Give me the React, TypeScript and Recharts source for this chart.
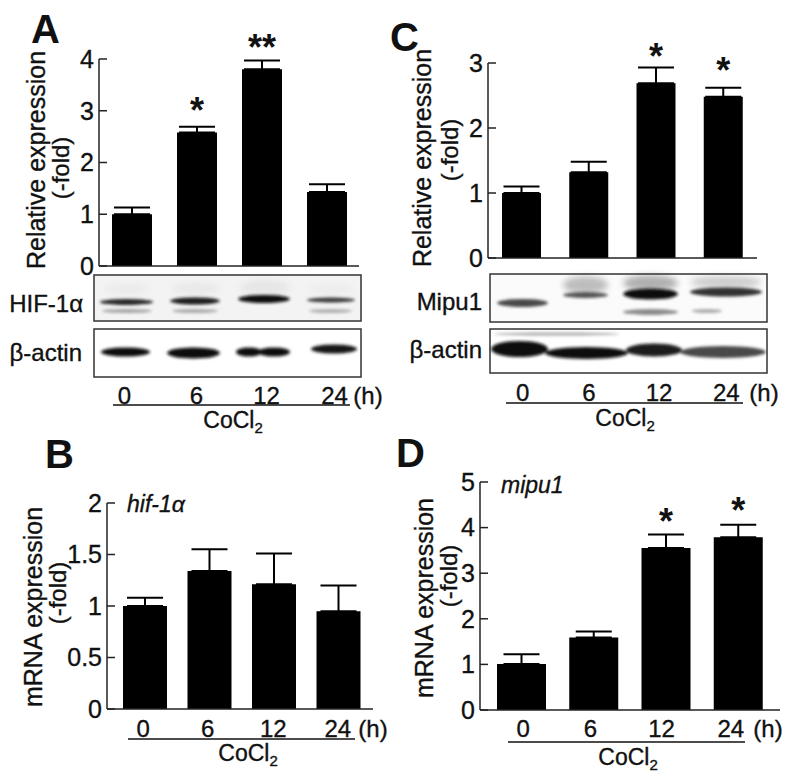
import React from "react";
import { BarChart, Bar, XAxis, YAxis, ErrorBar, LabelList } from "recharts";

const FONT = "'Liberation Sans', Arial, Helvetica, sans-serif";

const timePoints = ["0", "6", "12", "24"];

// A: HIF-1α protein
const hifProtein = [1.0, 2.58, 3.8, 1.43];
const hifProteinErr = [0.13, 0.11, 0.17, 0.15];
const hifProteinSig = ["", "*", "**", ""];
const hifProteinTicks = [0, 1, 2, 3, 4];

// C: Mipu1 protein
const mipuProtein = [1.0, 1.32, 2.69, 2.48];
const mipuProteinErr = [0.1, 0.16, 0.24, 0.14];
const mipuProteinSig = ["", "", "*", "*"];
const mipuProteinTicks = [0, 1, 2, 3];

// B: hif-1α mRNA
const hifMrna = [1.0, 1.34, 1.21, 0.95];
const hifMrnaErr = [0.08, 0.21, 0.3, 0.25];
const hifMrnaSig = ["", "", "", ""];
const hifMrnaTicks = [0, 0.5, 1, 1.5, 2];

// D: mipu1 mRNA
const mipuMrna = [1.01, 1.59, 3.55, 3.79];
const mipuMrnaErr = [0.21, 0.13, 0.3, 0.27];
const mipuMrnaSig = ["", "", "*", "*"];
const mipuMrnaTicks = [0, 1, 2, 3, 4, 5];

const toRows = (vals: number[], errs: number[], sig: string[]) =>
  timePoints.map((t, i) => ({ time: t, value: vals[i], err: [0, errs[i]], sig: sig[i] }));

const heavy = { stroke: "#111", strokeWidth: 0.35 };

type PanelProps = {
  left: number;
  top: number;
  width: number;
  height: number;
  margin: { top: number; right: number; bottom: number; left: number };
  rows: any[];
  ticks: number[];
  yWidth: number;
  barSize: number;
  labelDy: number;
  labelDx: number[];
  starGap: number;
  padding?: { left: number; right: number };
};

// time labels sit a bit off the bar centres in the original figure
const timeTick = (dy: number, dx: number[]) => (props: any) => {
  const { x, y, payload, index } = props;
  return (
    <text
      x={x + (dx[index] ?? 0)}
      y={y + dy}
      textAnchor="middle"
      dominantBaseline="central"
      fontSize={24}
      fill="#111"
      fontFamily={FONT}
      {...heavy}
    >
      {payload.value}
    </text>
  );
};

const starLabel = (gap: number) => (props: any) => {
  const x = props.x ?? props.viewBox?.x;
  const y = props.y ?? props.viewBox?.y;
  const w = props.width ?? props.viewBox?.width ?? 0;
  if (!props.value) return null;
  return (
    <text x={x + w / 2} y={y - gap + 20} textAnchor="middle" fontSize={36} fontWeight="bold" fill="#111" fontFamily={FONT}>
      {props.value}
    </text>
  );
};

function Panel(p: PanelProps) {
  const max = p.ticks[p.ticks.length - 1];
  return (
    <div style={{ position: "absolute", left: p.left, top: p.top }}>
      <BarChart width={p.width} height={p.height} data={p.rows} margin={p.margin}>
        <XAxis
          dataKey="time"
          height={30}
          tickLine={false}
          tickSize={0}
          tickMargin={0}
          padding={p.padding ?? { left: 0, right: 0 }}
          axisLine={{ stroke: "#222", strokeWidth: 1.5 }}
          tick={timeTick(p.labelDy, p.labelDx)}
          interval={0}
        />
        <YAxis
          width={p.yWidth}
          domain={[0, max]}
          ticks={p.ticks}
          allowDataOverflow
          tickSize={-8}
          tickMargin={13}
          axisLine={{ stroke: "#222", strokeWidth: 1.5 }}
          tickLine={{ stroke: "#222", strokeWidth: 1.5 }}
          tick={{ fontSize: 25, fill: "#111", fontFamily: FONT, ...heavy }}
          tickFormatter={(v: number) => String(v)}
        />
        <Bar dataKey="value" fill="#000" barSize={p.barSize} isAnimationActive={false}>
          <ErrorBar dataKey="err" width={18} stroke="#000" strokeWidth={2} direction="y" />
          <LabelList dataKey="sig" content={starLabel(p.starGap)} />
        </Bar>
      </BarChart>
    </div>
  );
}

type BandDef = [number, number, number, number, string];

function Bands({ list, blur }: { list: BandDef[]; blur: string }) {
  return (
    <g filter={`url(#${blur})`}>
      {list.map(([x1, x2, y, h, c], i) => (
        <ellipse key={i} cx={(x1 + x2) / 2} cy={y} rx={(x2 - x1) / 2} ry={h / 2} fill={c} />
      ))}
    </g>
  );
}

function VText({ x, y, size = 25, children }: { x: number; y: number; size?: number; children: React.ReactNode }) {
  return (
    <text
      x={x}
      y={y}
      transform={`rotate(-90 ${x} ${y})`}
      textAnchor="middle"
      dominantBaseline="central"
      fontSize={size}
      fill="#111"
      fontFamily={FONT}
      {...heavy}
    >
      {children}
    </text>
  );
}

function CoCl2({ x, y }: { x: number; y: number }) {
  return (
    <text x={x} y={y} textAnchor="middle" dominantBaseline="central" fontSize={23} fill="#111" fontFamily={FONT} {...heavy}>
      CoCl<tspan fontSize={15} dy={7}>2</tspan>
    </text>
  );
}

function Hours({ x, y }: { x: number; y: number }) {
  return (
    <text x={x} y={y} fontSize={24} textAnchor="middle" dominantBaseline="central" fill="#111" fontFamily={FONT} {...heavy}>
      (h)
    </text>
  );
}

function Overlay() {
  const t = { fill: "#111", fontFamily: FONT };
  return (
    <svg width={800} height={778} style={{ position: "absolute", left: 0, top: 0, pointerEvents: "none" }}>
      <defs>
        <filter id="soft" x="-20%" y="-150%" width="140%" height="400%">
          <feGaussianBlur stdDeviation="1.4" />
        </filter>
        <filter id="haze" x="-20%" y="-150%" width="140%" height="400%">
          <feGaussianBlur stdDeviation="3" />
        </filter>
      </defs>

      {/* panel letters */}
      <text x={31} y={43} fontSize={40} fontWeight="bold" {...t}>A</text>
      <text x={390} y={51} fontSize={40} fontWeight="bold" {...t}>C</text>
      <text x={45} y={468} fontSize={40} fontWeight="bold" {...t}>B</text>
      <text x={396} y={467} fontSize={40} fontWeight="bold" {...t}>D</text>

      {/* axis titles */}
      <VText x={36} y={160}>Relative expression</VText>
      <VText x={60} y={168} size={24}>(-fold)</VText>
      <VText x={422} y={158}>Relative expression</VText>
      <VText x={449} y={150} size={24}>(-fold)</VText>
      <VText x={33} y={607}>mRNA expression</VText>
      <VText x={57} y={593} size={24}>(-fold)</VText>
      <VText x={424} y={598}>mRNA expression</VText>
      <VText x={448} y={576} size={24}>(-fold)</VText>

      {/* gene names */}
      <text x={127} y={504} fontSize={23} fontStyle="italic" dominantBaseline="central" {...t} {...heavy}>hif-1α</text>
      <text x={501} y={485} fontSize={23} fontStyle="italic" dominantBaseline="central" {...t} {...heavy}>mipu1</text>

      {/* A blots */}
      <rect x={94} y={275} width={267} height={46} fill="#f3f3f3" />
      <Bands
        blur="haze"
        list={[
          [105, 150, 289, 12, "#ebebeb"],
          [172, 220, 288, 12, "#e9e9e9"],
          [240, 290, 287, 14, "#e6e6e6"],
          [308, 354, 289, 10, "#ececec"],
        ]}
      />
      <Bands
        blur="soft"
        list={[
          [100, 153, 302, 6, "#262626"],
          [170, 220, 301, 7, "#1c1c1c"],
          [238, 290, 299, 8, "#0e0e0e"],
          [307, 355, 300, 5, "#3a3a3a"],
          [102, 152, 311, 4, "#a4a4a4"],
          [172, 218, 311, 4, "#aaaaaa"],
          [309, 352, 311, 4, "#b0b0b0"],
        ]}
      />
      <rect x={94} y={275} width={267} height={46} fill="none" stroke="#333" strokeWidth={1.5} />
      <rect x={94} y={329} width={267} height={48} fill="none" stroke="#333" strokeWidth={1.5} />
      <Bands
        blur="soft"
        list={[
          [101, 150, 352, 9, "#111"],
          [167, 220, 353, 11, "#0a0a0a"],
          [236, 262, 352, 9, "#111"],
          [258, 290, 352, 9, "#111"],
          [311, 357, 349, 9, "#161616"],
        ]}
      />
      <text x={83} y={303} fontSize={24} textAnchor="end" dominantBaseline="central" {...t} {...heavy}>HIF-1α</text>
      <text x={82} y={352} fontSize={24} textAnchor="end" dominantBaseline="central" {...t} {...heavy}>β-actin</text>

      {/* C blots */}
      <rect x={490} y={274} width={277} height={48} fill="#fbfbfb" />
      <Bands
        blur="haze"
        list={[
          [563, 608, 285, 18, "#bdbdbd"],
          [623, 678, 283, 16, "#b0b0b0"],
          [690, 762, 282, 12, "#cccccc"],
        ]}
      />
      <Bands
        blur="soft"
        list={[
          [497, 548, 303, 8, "#4a4a4a"],
          [563, 608, 295, 6, "#555"],
          [623, 678, 294, 11, "#111"],
          [623, 678, 312, 6, "#8a8a8a"],
          [690, 762, 292, 9, "#333"],
          [692, 722, 311, 4, "#aaa"],
        ]}
      />
      <rect x={490} y={274} width={277} height={48} fill="none" stroke="#333" strokeWidth={1.5} />
      <rect x={490} y={329} width={277} height={44} fill="none" stroke="#333" strokeWidth={1.5} />
      <Bands
        blur="soft"
        list={[
          [493, 620, 334, 3, "#aaa"],
          [491, 548, 349, 16, "#0a0a0a"],
          [545, 628, 353, 12, "#111"],
          [626, 682, 350, 13, "#1a1a1a"],
          [680, 766, 352, 12, "#4a4a4a"],
        ]}
      />
      <text x={482} y={301} fontSize={24} textAnchor="end" dominantBaseline="central" {...t} {...heavy}>Mipu1</text>
      <text x={482} y={349} fontSize={24} textAnchor="end" dominantBaseline="central" {...t} {...heavy}>β-actin</text>

      {/* time axis annotations */}
      <Hours x={368} y={395} />
      <line x1={113} x2={350} y1={405} y2={405} stroke="#111" strokeWidth={1.5} />
      <CoCl2 x={233} y={420} />

      <Hours x={764} y={392} />
      <line x1={506} x2={743} y1={403} y2={403} stroke="#111" strokeWidth={1.5} />
      <CoCl2 x={625} y={418} />

      <Hours x={373} y={728} />
      <line x1={128} x2={355} y1={739} y2={739} stroke="#111" strokeWidth={1.5} />
      <CoCl2 x={248} y={753} />

      <Hours x={768} y={728} />
      <line x1={508} x2={745} y1={742} y2={742} stroke="#111" strokeWidth={1.5} />
      <CoCl2 x={628} y={757} />
    </svg>
  );
}

export default function App() {
  return (
    <div style={{ position: "absolute", left: 0, top: 0, width: 800, height: 778, background: "#fff", fontFamily: FONT }}>
      <Panel
        left={0}
        top={0}
        width={400}
        height={440}
        margin={{ top: 59, right: 41, bottom: 144, left: 69 }}
        rows={toRows(hifProtein, hifProteinErr, hifProteinSig)}
        ticks={hifProteinTicks}
        yWidth={30}
        barSize={40}
        labelDy={129}
        labelDx={[-7, 0, 5, 8]}
        starGap={29}
      />
      <Panel
        left={400}
        top={0}
        width={400}
        height={440}
        margin={{ top: 63, right: 43, bottom: 152, left: 58 }}
        rows={toRows(mipuProtein, mipuProteinErr, mipuProteinSig)}
        ticks={mipuProteinTicks}
        yWidth={30}
        barSize={39}
        labelDy={134}
        labelDx={[1, 0, 3, 3]}
        starGap={34}
      />
      <Panel
        left={0}
        top={440}
        width={400}
        height={338}
        margin={{ top: 63, right: 27, bottom: 39, left: 67 }}
        rows={toRows(hifMrna, hifMrnaErr, hifMrnaSig)}
        ticks={hifMrnaTicks}
        yWidth={40}
        barSize={44}
        labelDy={19}
        labelDx={[-2, -2, -1, -1]}
        starGap={30}
        padding={{ left: 6, right: 2 }}
      />
      <Panel
        left={400}
        top={440}
        width={400}
        height={338}
        margin={{ top: 42, right: 20, bottom: 38, left: 50 }}
        rows={toRows(mipuMrna, mipuMrnaErr, mipuMrnaSig)}
        ticks={mipuMrnaTicks}
        yWidth={30}
        barSize={49}
        labelDy={18}
        labelDx={[2, -3, -4, -7]}
        starGap={34}
        padding={{ left: 5, right: 6 }}
      />
      <Overlay />
    </div>
  );
}
